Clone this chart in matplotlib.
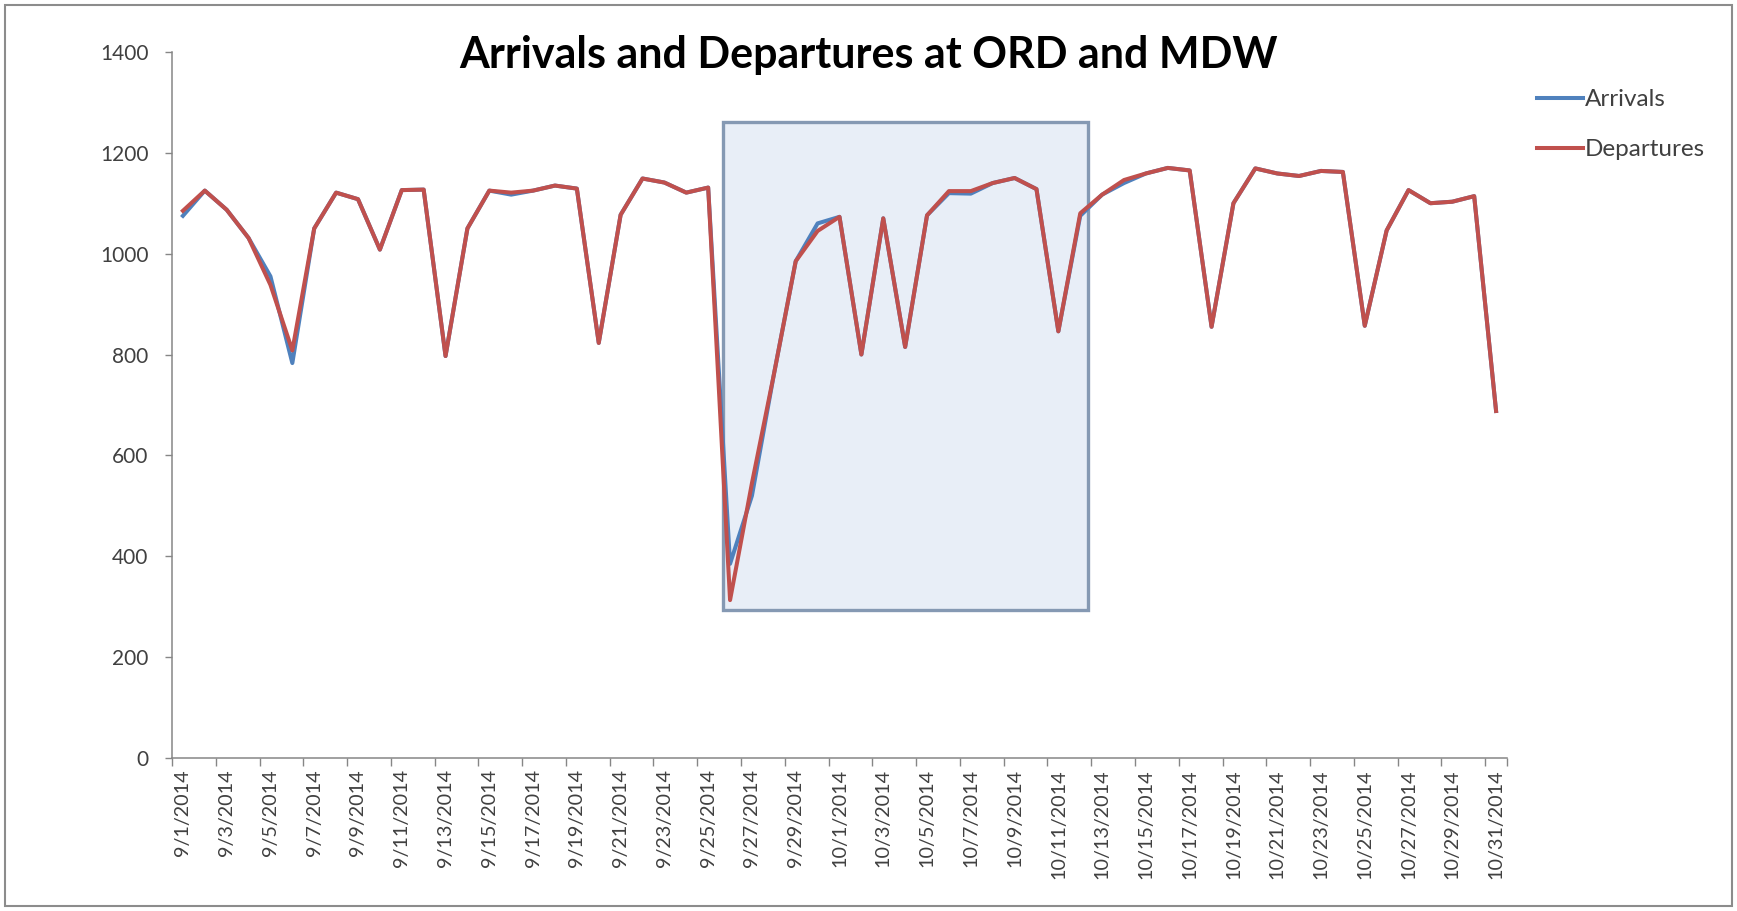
import matplotlib
matplotlib.use("Agg")
import matplotlib.pyplot as plt
from matplotlib.patches import Rectangle
import pandas as pd

plt.rcParams['font.family'] = ['Lato', 'DejaVu Sans']

# ---- data ----
dates = pd.date_range("2014-09-01", "2014-10-31", freq="D")
date_labels = [f"{d.month}/{d.day}/{d.year}" for d in dates]

arrivals = [1075, 1125, 1087, 1031, 955, 783, 1050, 1121, 1108, 1008,
            1126, 1127, 797, 1050, 1125, 1117, 1125, 1135, 1129, 823,
            1077, 1149, 1141, 1121, 1131, 385, 520, 760, 985, 1060,
            1073, 800, 1070, 815, 1076, 1120, 1119, 1140, 1150, 1128,
            846, 1075, 1117, 1140, 1159, 1170, 1165, 855, 1100, 1169,
            1159, 1154, 1164, 1162, 857, 1046, 1126, 1100, 1103, 1114, 688]

departures = [1085, 1125, 1087, 1031, 938, 808, 1050, 1121, 1108, 1008,
              1126, 1127, 797, 1050, 1125, 1121, 1125, 1135, 1129, 823,
              1077, 1149, 1141, 1121, 1131, 313, 545, 760, 985, 1045,
              1073, 800, 1070, 815, 1076, 1124, 1124, 1140, 1150, 1128,
              846, 1080, 1117, 1146, 1159, 1170, 1165, 855, 1100, 1169,
              1159, 1154, 1164, 1162, 857, 1046, 1126, 1100, 1103, 1114, 688]

# highlight box (category index range and value range)
box_x = (24.69, 41.36)
box_y = (294, 1262)

# ---- figure ----
fig = plt.figure(figsize=(17.37, 9.11), dpi=100)
ax = fig.add_axes([0.099, 0.168, 0.7686, 0.775])

x = list(range(len(dates)))

ax.add_patch(Rectangle((box_x[0], box_y[0]), box_x[1] - box_x[0], box_y[1] - box_y[0],
                       facecolor="#E8EEF7", edgecolor="#8599B3", linewidth=2.4, zorder=1))

ax.plot(x, arrivals, color="#4F81BD", linewidth=2.9, label="Arrivals", zorder=3,
        solid_joinstyle="round")
ax.plot(x, departures, color="#C0504D", linewidth=2.9, label="Departures", zorder=4,
        solid_joinstyle="round")

ax.set_xlim(-0.5, len(dates) - 0.5)
ax.set_ylim(0, 1400)
ax.set_yticks(range(0, 1401, 200))
ax.tick_params(axis="y", labelsize=15, labelcolor="#404040", color="#868686",
               length=5, width=1, direction="out", pad=12)

# x ticks: marks at category boundaries every 2, labels at even categories
major_pos = [i - 0.5 for i in range(0, len(dates), 2)] + [len(dates) - 0.5]
ax.set_xticks(major_pos)
ax.set_xticklabels([])
ax.tick_params(axis="x", which="major", length=6, width=1, color="#868686", direction="out")
label_pos = list(range(0, len(dates), 2))
ax.set_xticks(label_pos, minor=True)
ax.set_xticklabels([date_labels[i] for i in label_pos], minor=True, rotation=90,
                   fontsize=14.2, color="#404040")
ax.tick_params(axis="x", which="minor", length=0, pad=8)

for s in ["top", "right"]:
    ax.spines[s].set_visible(False)
for s in ["left", "bottom"]:
    ax.spines[s].set_color("#868686")
    ax.spines[s].set_linewidth(1.1)

fig.text(0.5, 0.940, "Arrivals and Departures at ORD and MDW", ha="center", va="center",
         fontsize=31, fontweight="bold", color="black")

leg = fig.legend(loc="upper left", bbox_to_anchor=(0.872, 0.926), frameon=False,
                 fontsize=17.5, handlelength=1.9, handletextpad=0.1, labelspacing=1.2,
                 labelcolor="#404040")

# outer chart frame
fig.patches.append(Rectangle((0.003, 0.006), 0.994, 0.988, transform=fig.transFigure,
                             fill=False, edgecolor="#8C8C8C", linewidth=1.5))

fig.savefig("out.png", dpi=100)
